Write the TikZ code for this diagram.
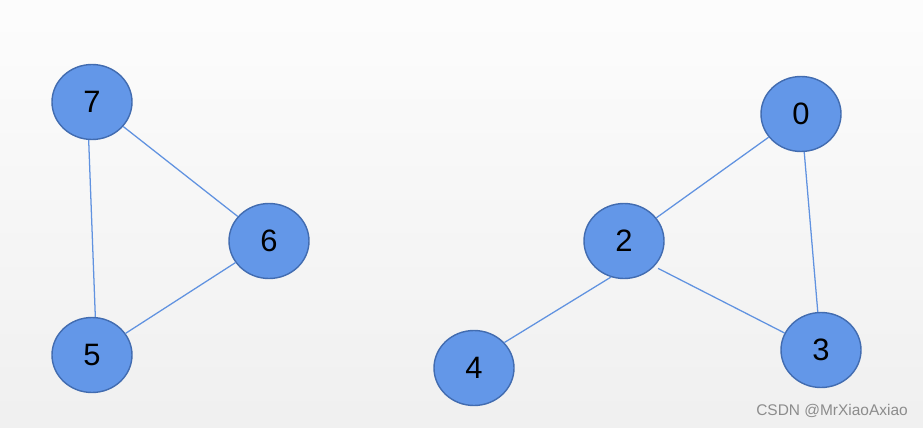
\documentclass[tikz,border=0pt]{standalone}
\usepackage{fontspec}
\setmainfont{Liberation Sans}
\usepackage{xcolor}
\usetikzlibrary{shapes.geometric, positioning}
\definecolor{vfill}{RGB}{99,151,232}
\definecolor{vline}{RGB}{66,108,176}
\definecolor{elink}{RGB}{96,146,224}
\tikzset{
  vertex/.style={ellipse, draw=vline, fill=vfill, line width=1pt,
                 minimum width=2cm, minimum height=1.875cm, inner sep=0pt,
                 font=\fontsize{22}{26}\selectfont},
  link/.style={draw=elink, line width=0.9pt},
  mark label/.style={font=\fontsize{11}{13}\selectfont, text=black!45},
}
\begin{document}
\begin{tikzpicture}
  % Background
  \shade[top color=white!99!black, bottom color=black!6]
    (0,0) rectangle (23.075,10.675);
  \useasboundingbox (0,0) rectangle (23.075,10.675);

  % Left component
  \node[vertex] (v7) at (2.3,8.125) {7};
  \node[vertex] (v6) at (6.725,4.65) {6};
  \node[vertex] (v5) at (2.3,1.8) {5};

  % Right component
  \node[vertex] (v0) at (20.025,7.825) {0};
  \node[vertex] (v2) at (15.6,4.65) {2};
  \node[vertex] (v4) at (11.85,1.475) {4};
  \node[vertex] (v3) at (20.525,1.925) {3};

  % Edges
  \draw[link] (v7) -- (v6);
  \draw[link] (v7.265) -- (v5.85);
  \draw[link] (v6) -- (v5);
  \draw[link] (v0) -- (v2);
  \draw[link] (v0) -- (v3);
  \draw[link, shorten <=3pt] (v2.320) -- (v3.155);
  \draw[link] (v2.250) -- (v4.40);

  % Watermark
  \node[mark label] (mark) at (20.8,0.4) {CSDN @MrXiaoAxiao};
\end{tikzpicture}
\end{document}
